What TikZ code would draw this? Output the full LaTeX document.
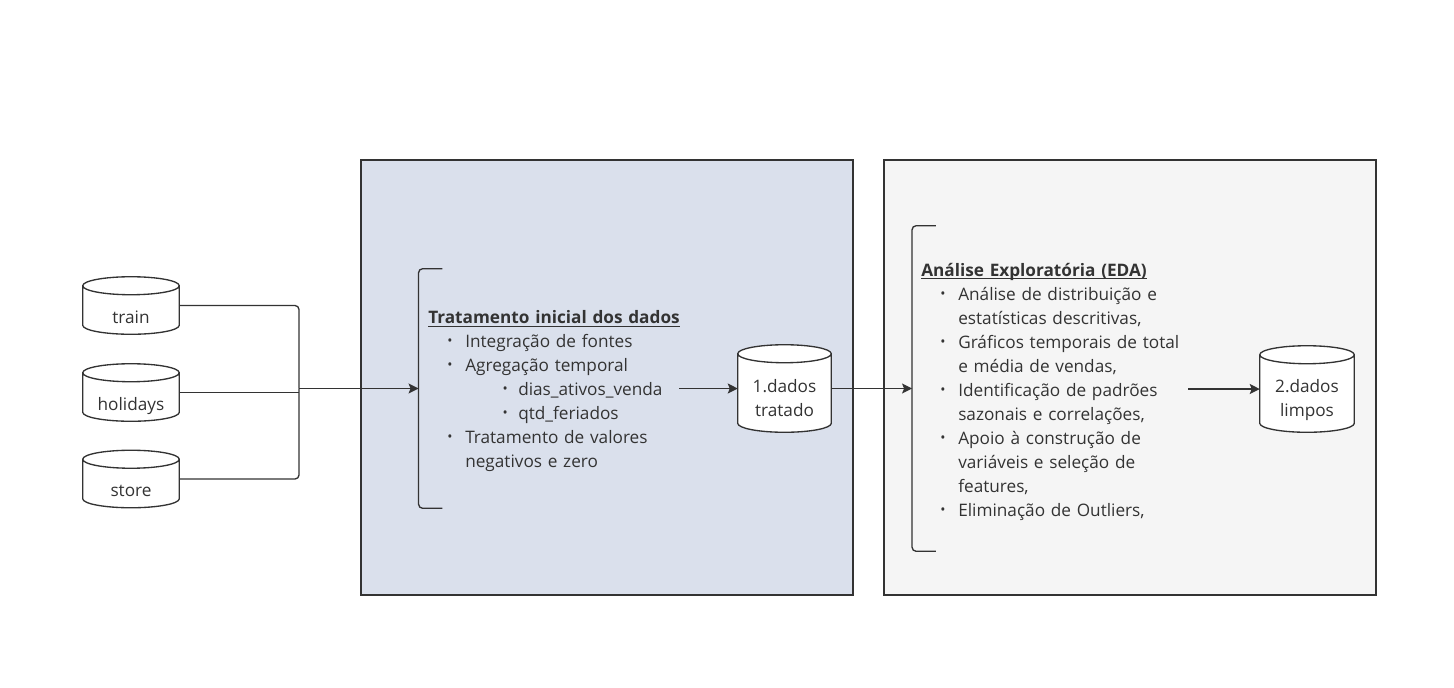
\documentclass[tikz,border=0pt]{standalone}
\usepackage{fontspec}
\setmainfont{Open Sans}
\usetikzlibrary{arrows.meta,calc}
\definecolor{ink}{HTML}{333333}
\definecolor{boxblue}{HTML}{DAE0EC}
\definecolor{boxgray}{HTML}{F5F5F5}
\newsavebox\myulbox
\newcommand\myul[1]{\sbox\myulbox{#1}\rlap{\rule[-2.6pt]{\wd\myulbox}{0.85pt}}\usebox\myulbox}
\newcommand\bul{\makebox[27.75pt][l]{\hspace{14.3pt}\raisebox{1.2pt}{\scalebox{0.8}{•}}}}
\newcommand\subbul{\makebox[67.5pt][l]{\hspace{55.8pt}\raisebox{1.2pt}{\scalebox{0.8}{•}}}}
\newcommand\ind{\hspace*{27.75pt}}
\newcommand\drawcyl[1]{%
  \draw[cylline] let \p1=(#1.north west), \p2=(#1.south east), \n1={(\x2-\x1)/2} in
    (\x1,\y1-6.75pt) -- (\x1,\y2+6.75pt)
    arc[start angle=180,end angle=360,x radius=\n1,y radius=6.75pt]
    -- (\x2,\y1-6.75pt)
    arc[start angle=0,end angle=180,x radius=\n1,y radius=6.75pt] -- cycle
    (\x1,\y1-6.75pt) arc[start angle=180,end angle=360,x radius=\n1,y radius=6.75pt];}
\tikzset{
  cyl/.style={rectangle,inner sep=0pt},
  cylline/.style={draw=ink,line width=1pt,fill=white},
  lbl/.style={anchor=base,text=ink,font=\fontsize{12.9pt}{18pt}\selectfont,inner sep=0pt,align=center},
  blk/.style={anchor=base west,text=ink,font=\fontsize{12.9pt}{18pt}\selectfont,inner sep=0pt,align=left,text width=300pt},
  conn/.style={draw=ink,line width=1pt},
  arr/.style={conn,-{Stealth[length=7.5pt,width=7.5pt,inset=1.5pt]}},
  brk/.style={draw=ink,line width=1pt,rounded corners=3pt},
  bframe/.style={rectangle,inner sep=0pt,minimum width=17.5pt},
}
\begin{document}
\begin{tikzpicture}[x=0.75pt,y=-0.75pt]
\useasboundingbox (0,0) rectangle (1454,687);
% stage boxes
\draw[draw=ink,line width=1pt,fill=boxblue] (361,160) rectangle (853,595);
\draw[draw=ink,line width=1pt,fill=boxgray] (884,160) rectangle (1376,595);

% source cylinders
\node[cyl,minimum width=72pt,minimum height=42.75pt] (train) at (131,305.5) {};
\node[cyl,minimum width=72pt,minimum height=42.75pt] (holidays) at (131,392.5) {};
\node[cyl,minimum width=72pt,minimum height=42.75pt] (store) at (131,479) {};
\drawcyl{train}\drawcyl{holidays}\drawcyl{store}
\node[lbl] (trainl) at (131,323.5) {train};
\node[lbl] (holidaysl) at (131,410) {holidays};
\node[lbl] (storel) at (131,496.5) {store};

% bracket 1
\node[bframe,minimum height=179.25pt] (b1) at (430.5,388.5) {};
\draw[brk] (b1.north east) -- (b1.north west) -- (b1.south west) -- (b1.south east);
\node[blk] (t1) at (428,323.3) {\myul{\textbf{Tratamento inicial dos dados}}\\
\bul Integração de fontes\\
\bul Agregação temporal\\
\subbul dias\_ativos\_venda\\
\subbul qtd\_feriados\\
\bul Tratamento de valores\\
\ind negativos e zero};

% bracket 2
\node[bframe,minimum height=243.75pt] (b2) at (924,388.5) {};
\draw[brk] (b2.north east) -- (b2.north west) -- (b2.south west) -- (b2.south east);
\node[blk] (t2) at (921,276) {\myul{\textbf{Análise Exploratória (EDA)}}\\
\bul Análise de distribuição e\\
\ind estatísticas descritivas,\\
\bul Gráficos temporais de total\\
\ind e média de vendas,\\
\bul Identificação de padrões\\
\ind sazonais e correlações,\\
\bul Apoio à construção de\\
\ind variáveis e seleção de\\
\ind features,\\
\bul Eliminação de Outliers,};

% output cylinders
\node[cyl,minimum width=69.75pt,minimum height=65.25pt] (tratado) at (784.5,388.5) {};
\node[cyl,minimum width=70.5pt,minimum height=64.5pt] (limpos) at (1307,389) {};
\drawcyl{tratado}\drawcyl{limpos}
\node[lbl] (tratadol) at (784.5,416.7) {1.dados\\tratado};
\node[lbl] (limposl) at (1307,416.7) {2.dados\\limpos};

% connectors
\coordinate (j) at (299,388.5);
\draw[conn,rounded corners=3pt] (train.east) -| (j);
\draw[conn,rounded corners=3pt] (store.east) -| (j);
\draw[conn] (holidays.east) -- (holidays.east -| j);
\draw[arr] (j) -- (b1.west);
\coordinate (s1) at (679,388.5);
\draw[arr] (s1) -- (tratado.west);
\draw[arr] (tratado.east) -- (b2.west);
\coordinate (s2) at (1188,389);
\draw[arr] (s2) -- (limpos.west);
\end{tikzpicture}
\end{document}
